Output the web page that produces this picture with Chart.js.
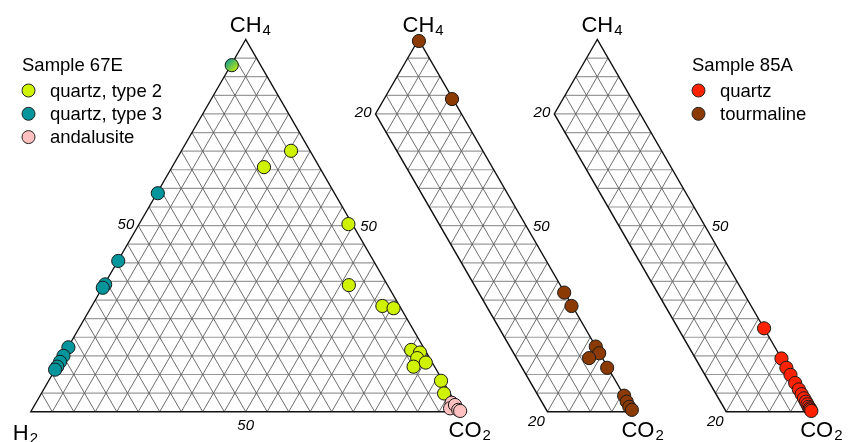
<!DOCTYPE html>
<html>
<head>
<meta charset="utf-8">
<script src="https://cdn.jsdelivr.net/npm/chart.js@4.4.1/dist/chart.umd.min.js"></script>
<style>
  html, body { margin: 0; padding: 0; background: #fff; }
  #wrap { width: 858px; height: 442px; position: relative; }
</style>
</head>
<body>
<div id="wrap"><canvas id="chart"></canvas></div>
<script>
// Fluid inclusion compositions, mol % as [CH4, CO2] (H2 = rest)
const quartzType2 = [
  [70.1, 25.5], [65.7, 21.4], [50.4, 48.7], [34.0, 57.0], [28.4, 67.6],
  [27.8, 70.5], [16.6, 80.2], [15.9, 82.6], [14.4, 82.7], [12.1, 83.0],
  [13.2, 85.3], [8.3, 91.3], [4.9, 93.7]
];
const quartzType3 = [
  [58.7, 0.2], [40.5, 0.1], [34.2, 0.2], [33.3, 0.1], [17.3, 0.1],
  [15.0, 0.1], [13.4, 0.1], [12.1, 0.1], [11.3, 0.0]
];
const quartzType23 = [[93.1, 0.2]];
const andalusite = [[2.4, 96.7], [0.9, 97.1], [1.8, 97.8], [0.5, 99.2], [0.2, 99.8]];

const tourmaline85A = [
  [99.6, 0.3], [84.0, 15.8], [32.0, 67.9], [28.4, 71.4], [17.5, 82.5],
  [15.7, 84.2], [14.4, 82.5], [11.8, 88.0], [4.3, 95.7], [2.7, 97.1],
  [1.3, 98.4], [0.5, 99.4]
];
const quartz85A = [
  [22.4, 77.6], [14.3, 85.7], [11.8, 88.1], [9.9, 90.0], [7.7, 92.2],
  [6.0, 93.9], [4.7, 95.2], [3.6, 96.3], [2.7, 97.2], [2.0, 97.9],
  [1.3, 98.5], [0.9, 99.0], [0.6, 99.3], [0.2, 99.7]
];

const legend67E = ['quartz, type 2', 'quartz, type 3', 'andalusite'];
const legend85A = ['quartz', 'tourmaline'];

const GREEN = '#cff200', TEAL = '#03959c', PINK = '#ffc0c0', BROWN = '#8a3a02', RED = '#ff2200';
const FONT = "'Liberation Sans', Arial, sans-serif";

// three diagrams: full triangle, then two strips with H2 <= 20
const panels = [
  { offset: 0, maxH2: 100, ticks: [[50, 0, 'left'], [0, 50, 'bottom'], [50, 50, 'right']] },
  { offset: 40.2, maxH2: 20, ticks: [[80, 0, 'left'], [0, 80, 'bottom'], [50, 50, 'right']] },
  { offset: 81.8, maxH2: 20, ticks: [[80, 0, 'left'], [0, 80, 'bottom'], [50, 50, 'right']] }
];
const tickText = { 50: '50', 80: '20' };
const GRID_STEP = 5;
const SQ = Math.sqrt(3) / 2;

function toXY(ch4, co2, offset) {
  return { x: offset + co2 + ch4 / 2, y: ch4 * SQ };
}
const pts = (arr, off) => arr.map(d => toXY(d[0], d[1], off));

function mixedFill(c) {
  const chart = c.chart, sx = chart.scales.x, sy = chart.scales.y;
  if (!c.raw || !sx || !sy) return TEAL;
  const px = sx.getPixelForValue(c.raw.x), py = sy.getPixelForValue(c.raw.y);
  if (!isFinite(px) || !isFinite(py)) return TEAL;
  const g = chart.ctx.createLinearGradient(px - 6, py - 6, px + 6, py + 6);
  g.addColorStop(0, TEAL);
  g.addColorStop(1, GREEN);
  return g;
}

const ternaryGrid = {
  id: 'ternaryGrid',
  beforeDatasetsDraw(chart) {
    const ctx = chart.ctx, sx = chart.scales.x, sy = chart.scales.y;
    panels.forEach(p => {
      const o = p.offset, h = p.maxH2;
      const P = (ch4, co2) => { const d = toXY(ch4, co2, o); return [sx.getPixelForValue(d.x), sy.getPixelForValue(d.y)]; };
      const seg = (a, b) => { ctx.moveTo(a[0], a[1]); ctx.lineTo(b[0], b[1]); };
      ctx.save();
      // horizontal lines (constant CH4): lighter
      ctx.strokeStyle = '#9a9a9a';
      ctx.lineWidth = 1.2;
      ctx.beginPath();
      for (let c = GRID_STEP; c < 100; c += GRID_STEP) {
        const hEnd = Math.min(h, 100 - c);
        seg(P(c, 100 - c - hEnd), P(c, 100 - c));
      }
      ctx.stroke();
      // oblique lines (constant CO2, constant H2)
      ctx.strokeStyle = '#5e5e5e';
      ctx.lineWidth = 0.9;
      ctx.beginPath();
      for (let c = GRID_STEP; c < 100; c += GRID_STEP) {
        const hEnd = Math.min(h, 100 - c);
        seg(P(100 - c - hEnd, c), P(100 - c, c));
        if (c < h) seg(P(0, 100 - c), P(100 - c, 0));
      }
      ctx.stroke();
      ctx.strokeStyle = '#111';
      ctx.lineWidth = 1.4;
      ctx.beginPath();
      const poly = [P(100, 0), P(100 - h, 0), P(0, 100 - h), P(0, 100)];
      ctx.moveTo(poly[0][0], poly[0][1]);
      poly.slice(1).forEach(q => ctx.lineTo(q[0], q[1]));
      ctx.closePath();
      ctx.stroke();
      ctx.restore();
    });
  },
  afterDraw(chart) {
    const ctx = chart.ctx, sx = chart.scales.x, sy = chart.scales.y;
    ctx.save();
    ctx.fillStyle = '#000';
    ctx.textBaseline = 'alphabetic';

    const chem = (main, sub, left, base) => {
      ctx.font = '22px ' + FONT;
      ctx.textAlign = 'left';
      ctx.fillText(main, left, base);
      const w = ctx.measureText(main).width;
      ctx.font = '15px ' + FONT;
      ctx.fillText(sub, left + w + 1, base + 3);
    };

    panels.forEach((p, i) => {
      const o = p.offset;
      const P = (ch4, co2) => { const d = toXY(ch4, co2, o); return [sx.getPixelForValue(d.x), sy.getPixelForValue(d.y)]; };
      const apex = P(100, 0), co2v = P(0, 100);
      ctx.font = '22px ' + FONT;
      const wCH = ctx.measureText('CH').width;
      chem('CH', '4', apex[0] - wCH / 2, apex[1] - 7);
      chem('CO', '2', co2v[0] - 12, co2v[1] + 25);
      if (i === 0) {
        const h2v = P(0, 0);
        chem('H', '2', h2v[0] - 18, h2v[1] + 28);
      }
      ctx.font = 'italic 15px ' + FONT;
      ctx.textBaseline = 'middle';
      p.ticks.forEach(t => {
        const q = P(t[0], t[1]);
        const txt = tickText[t[0] || t[1]];
        if (t[2] === 'left') { ctx.textAlign = 'right'; ctx.fillText(txt, q[0] - 4, q[1] - 1); }
        else if (t[2] === 'bottom' && p.maxH2 === 100) { ctx.textAlign = 'center'; ctx.fillText(txt, q[0], q[1] + 14); }
        else if (t[2] === 'bottom') { ctx.textAlign = 'center'; ctx.fillText(txt, q[0] - 11, q[1] + 10); }
        else { ctx.textAlign = 'left'; ctx.fillText(txt, q[0] + 7, q[1] + 1); }
      });
      ctx.textBaseline = 'alphabetic';
    });

    // legends
    const legend = (title, items, colors, x, y) => {
      ctx.font = '18.5px ' + FONT;
      ctx.textAlign = 'left';
      ctx.fillText(title, x, y);
      items.forEach((lab, k) => {
        const by = y + 25.5 + k * 23.3;
        ctx.beginPath();
        ctx.arc(x + 6.5, by - 6, 6.5, 0, Math.PI * 2);
        ctx.fillStyle = colors[k];
        ctx.fill();
        ctx.lineWidth = 1;
        ctx.strokeStyle = '#222';
        ctx.stroke();
        ctx.fillStyle = '#000';
        ctx.fillText(lab, x + 28, by);
      });
    };
    legend('Sample 67E', legend67E, [GREEN, TEAL, PINK], 22, 71);
    legend('Sample 85A', legend85A, [RED, BROWN], 692, 71);
    ctx.restore();
  }
};

const base = { pointRadius: 6.6, pointBorderWidth: 1, pointBorderColor: '#1a1a1a', showLine: false };

new Chart(document.getElementById('chart'), {
  type: 'scatter',
  data: {
    datasets: [
      Object.assign({ label: 'andalusite', data: pts(andalusite, 0), pointBackgroundColor: PINK }, base),
      Object.assign({ label: 'quartz, type 2', data: pts(quartzType2, 0), pointBackgroundColor: GREEN }, base),
      Object.assign({ label: 'quartz, type 3', data: pts(quartzType3, 0), pointBackgroundColor: TEAL }, base),
      Object.assign({ label: 'quartz, type 2+3', data: pts(quartzType23, 0), pointBackgroundColor: mixedFill }, base),
      Object.assign({ label: 'tourmaline', data: pts(tourmaline85A, panels[1].offset), pointBackgroundColor: BROWN }, base),
      Object.assign({ label: 'quartz 85A', data: pts(quartz85A, panels[2].offset), pointBackgroundColor: RED }, base)
    ]
  },
  options: {
    responsive: true,
    maintainAspectRatio: false,
    animation: false,
    clip: false,
    layout: { padding: 0, autoPadding: false },
    plugins: { legend: { display: false }, tooltip: { enabled: false } },
    scales: {
      x: { type: 'linear', display: false, min: -7.166, max: 192.46 },
      y: { type: 'linear', display: false, min: -7.05, max: 95.79 }
    }
  },
  plugins: [ternaryGrid]
});
</script>
</body>
</html>
